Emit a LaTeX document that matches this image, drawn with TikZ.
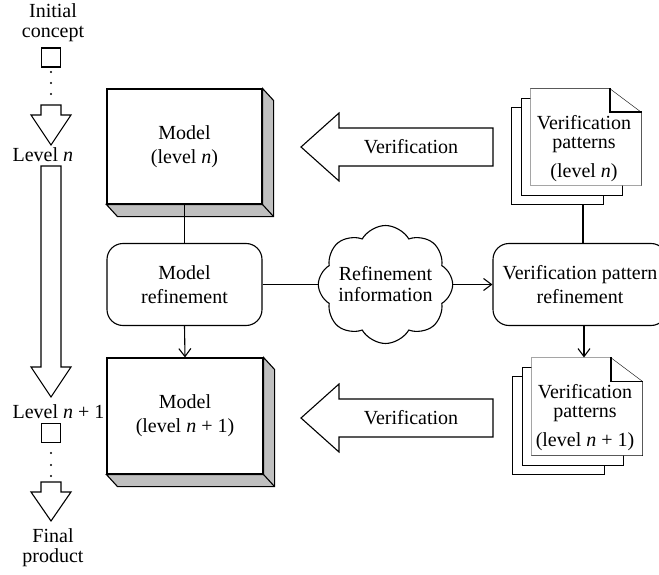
\documentclass[tikz,border=0pt]{standalone}
\usepackage{fontspec}
\setmainfont{Liberation Serif}
\usetikzlibrary{shapes.symbols,arrows.meta,backgrounds}
\begin{document}
\begin{tikzpicture}[x=1pt,y=-1pt,line width=1.1pt,
  every node/.style={font=\fontsize{20}{24}\selectfont, inner sep=0pt, align=center},
  arr/.style={-{Straight Barb[length=8pt,width=12pt]}},
  modelbox/.style={draw,fill=white,minimum width=155pt,minimum height=115pt},
  roundbox/.style={draw,rounded corners=16pt,minimum height=82pt},
  page/.style={minimum width=110pt,minimum height=96pt},
  doctext/.style={font=\fontsize{20}{18.5}\selectfont},
  sidelabel/.style={font=\fontsize{20}{20}\selectfont},
  extrude/.style={draw,fill=gray!50,line join=miter},
  fold/.style={line width=1.9pt,line join=miter},
  blockarrow/.style={draw,line join=miter},
  smallsq/.style={draw,minimum size=19pt},
  pagefill/.style={draw,fill=white,line join=miter}]
\useasboundingbox (0,0) rectangle (659,575);
\clip (0,0) rectangle (659,575);

% ---------- left column ----------
\node[sidelabel] (init) at (53,23) {Initial\\concept};
\node[smallsq] (sq1) at (51,57.5) {};
\foreach \yy in {72,83,94} \fill (51,\yy) circle[radius=1.1pt];
\draw[blockarrow] (41,105) -- (61,105) -- (61,115) -- (71,115) -- (51,145) -- (31,115) -- (41,115) -- cycle;
\node[sidelabel,anchor=west] (lvn) at (12,155) {Level \textit{n}};
\draw[blockarrow] (41,166) -- (61,166) -- (61,367) -- (71,367) -- (51,397) -- (31,367) -- (41,367) -- cycle;
\node[sidelabel,anchor=west] (lvn1) at (12,412) {Level \textit{n} + 1};
\node[smallsq] (sq2) at (51,433) {};
\foreach \yy in {453,465,476} \fill (51,\yy) circle[radius=1.1pt];
\draw[blockarrow] (41,482) -- (61,482) -- (61,492) -- (71,492) -- (51,521) -- (31,492) -- (41,492) -- cycle;
\node[sidelabel] (final) at (53,548) {Final\\product};

% ---------- model boxes ----------
\node[modelbox] (m1) at (184.5,146.5) {Model\\(level \textit{n})};
\draw[extrude] (m1.north east) -- ++(11,12) -- ([shift={(11,12)}]m1.south east) -- ([shift={(11,12)}]m1.south west) -- (m1.south west) -- (m1.south east) -- cycle;
\draw (m1.south east) -- ++(11,12);

\node[modelbox,minimum width=156pt,minimum height=116pt] (m2) at (185,416) {Model\\(level \textit{n} + 1)};
\draw[extrude] (m2.north east) -- ++(11,12) -- ([shift={(11,12)}]m2.south east) -- ([shift={(11,12)}]m2.south west) -- (m2.south west) -- (m2.south east) -- cycle;
\draw (m2.south east) -- ++(11,12);

% ---------- refinement row ----------
\node[roundbox,minimum width=155pt] (mr) at (184.5,284.5) {Model\\refinement};
\node[cloud,cloud puffs=8,cloud puff arc=120,cloud ignores aspect,draw,
      minimum width=130pt,minimum height=118pt,font=\fontsize{20}{21}\selectfont] (cl) at (385.5,284.5) {Refinement\\information};
\node[roundbox,minimum width=174pt] (vpr) at (580,284.5) {Verification pattern\\refinement};

% ---------- verification arrows ----------
\draw[blockarrow] (301,147) -- ++(38,-34) -- ++(0,15) -- ++(154,0) -- ++(0,38) -- ++(-154,0) -- ++(0,15) -- cycle;
\node (v1) at (411,147) {Verification};
\draw[blockarrow] (301,418) -- ++(38,-34) -- ++(0,15) -- ++(154,0) -- ++(0,38) -- ++(-154,0) -- ++(0,15) -- cycle;
\node (v2) at (411,418) {Verification};

% ---------- document stacks ----------
\node[page] (d1) at (586,137) {};
\node[page,minimum height=97pt] (d2) at (587,406.5) {};
\begin{scope}[on background layer]
  \foreach \d in {d1,d2}{
    \draw[pagefill] ([shift={(-19,19)}]\d.north west) rectangle ([shift={(-38,19)}]\d.south east);
    \draw[pagefill] ([shift={(-9.5,9.5)}]\d.north west) rectangle ([shift={(-19,9.5)}]\d.south east);
    \draw[pagefill] (\d.north west) -- ([xshift=-32pt]\d.north east) -- ([yshift=-24pt]\d.north east) -- (\d.south east) -- (\d.south west) -- cycle;
  }
\end{scope}
\draw[fold] ([xshift=-32pt]d1.north east) |- ([yshift=-24pt]d1.north east);
\draw[fold] ([xshift=-32pt]d2.north east) |- ([yshift=-24pt]d2.north east);
\node[doctext] (d1t) at (584,148.5) {Verification\\patterns\\[10.5pt](level \textit{n})};
\node[doctext] (d2t) at (585,417.5) {Verification\\patterns\\[10.5pt](level \textit{n} + 1)};

% ---------- connectors ----------
\draw (m1.south) -- (mr.north);
\draw[arr] (mr.south) -- (m2.north);
\draw (mr.east) -- (cl.west);
\draw[arr] (cl.east) -- (vpr.west);
\coordinate (d1b) at ([shift={(-3,19)}]d1.south);
\draw (d1b) -- (d1b |- vpr.north);
\coordinate (d2top) at ([xshift=-3pt]d2.north);
\draw[arr] (d2top |- vpr.south) -- (d2top);
\end{tikzpicture}
\end{document}
